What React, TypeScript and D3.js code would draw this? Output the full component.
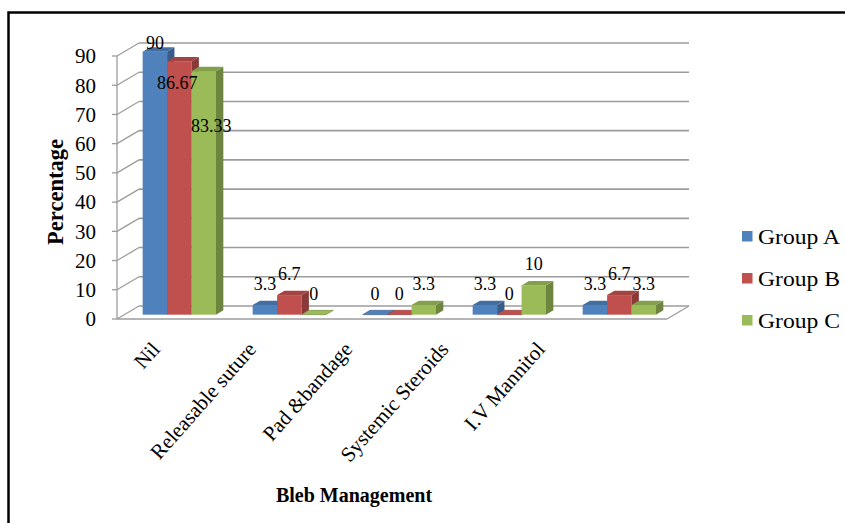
import React from "react";
import * as d3 from "d3";

const categories = ["Nil", "Releasable suture", "Pad &bandage", "Systemic Steroids", "I.V Mannitol"];
const seriesNames = ["Group A", "Group B", "Group C"];
const groupA = [90, 3.3, 0, 3.3, 3.3];
const groupB = [86.67, 6.7, 0, 0, 6.7];
const groupC = [83.33, 0, 3.3, 10, 3.3];
const yTicks = [0, 10, 20, 30, 40, 50, 60, 70, 80, 90];
const colors = ["#4F81BD", "#C0504D", "#9BBB59"];

const W = 845;
const H = 523;
const SERIF = "Times New Roman, Liberation Serif, Times, DejaVu Serif, serif";

export default function App() {
  const series = [groupA, groupB, groupC];
  // front plane geometry
  const X0 = 117, X1 = 667, DX = 22, DY = -13;
  const y = d3.scaleLinear().domain([0, 90]).range([319, 56]);
  const x = d3.scaleBand<string>().domain(categories).range([X0, X1]).paddingInner(0).paddingOuter(0);
  const bw = x.bandwidth();
  const xi = d3.scaleBand<string>().domain(seriesNames).range([bw / 6, (bw * 5) / 6]).padding(0);
  const barW = xi.bandwidth();
  const t0 = 1 / 3, t1 = 2 / 3;
  const ddx = DX * (t1 - t0), ddy = DY * (t1 - t0);
  const labelX = d3.scalePoint<string>().domain(categories).range([161, 546]);

  const bars: React.ReactNode[] = [];
  const labels: React.ReactNode[] = [];
  const nudge: Record<string, [number, number]> = { "0-1": [-2, 40], "0-2": [7.5, 76] };

  categories.forEach((c, ci) => {
    seriesNames.forEach((s, si) => {
      const v = series[si][ci];
      const x0 = (x(c) as number) + (xi(s) as number) + DX * t0;
      const x1 = x0 + barW;
      const yTop = y(v) + DY * t0;
      const yBot = y(0) + DY * t0;
      const col = d3.color(colors[si])!;
      const topC = col.darker(0.45).formatHex();
      const sideC = col.darker(0.95).formatHex();
      const pts = (arr: number[][]) => arr.map((p) => p.join(",")).join(" ");
      bars.push(
        <g key={`b-${ci}-${si}`}>
          {v > 0 && <rect x={x0} y={yTop} width={barW} height={yBot - yTop} fill={colors[si]} />}
          {v > 0 && (
            <polygon
              points={pts([[x1, yTop], [x1 + ddx, yTop + ddy], [x1 + ddx, yBot + ddy], [x1, yBot]])}
              fill={sideC}
            />
          )}
          <polygon
            points={pts([[x0, yTop], [x1, yTop], [x1 + ddx, yTop + ddy], [x0 + ddx, yTop + ddy]])}
            fill={v > 0 ? topC : colors[si]}
            stroke={v > 0 ? "none" : sideC}
            strokeWidth={0.6}
          />
        </g>
      );
      let lx = x0 + barW / 2;
      let ly = Math.max(yTop - 15, 49);
      const n = nudge[`${ci}-${si}`];
      if (n) {
        lx += n[0];
        ly += n[1];
      }
      labels.push(
        <text key={`l-${ci}-${si}`} x={lx} y={ly} textAnchor="middle" fontSize={18} fontFamily={SERIF} fill="#000">
          {String(v)}
        </text>
      );
    });
  });

  const grid = "#9c9c9c";
  return (
    <svg width={W} height={H} style={{ position: "absolute", left: 0, top: 0, background: "#fff" }}>
      <rect x={0} y={0} width={W} height={H} fill="#fff" />
      <rect x={8.5} y={12.5} width={W + 20} height={H + 20} fill="none" stroke="#000" strokeWidth={2.5} />
      {/* back gridlines and left wall */}
      {yTicks.map((t) => (
        <g key={`g-${t}`}>
          <line x1={X0 + DX} y1={y(t) + DY} x2={X1 + DX} y2={y(t) + DY} stroke={grid} strokeWidth={1.6} />
          <line x1={X0} y1={y(t)} x2={X0 + DX} y2={y(t) + DY} stroke={grid} strokeWidth={1.3} />
          <line x1={X0 - 5} y1={y(t)} x2={X0} y2={y(t)} stroke={grid} strokeWidth={1.3} />
          <text
            x={96}
            y={y(t)}
            dy="0.35em"
            textAnchor="end"
            fontSize={21}
            fontFamily={SERIF}
            fill="#000"
          >
            {t}
          </text>
        </g>
      ))}
      <line x1={X0} y1={y(90)} x2={X0} y2={y(0)} stroke={grid} strokeWidth={1.3} />
      <line x1={X0} y1={y(0)} x2={X1} y2={y(0)} stroke={grid} strokeWidth={1.6} />
      <line x1={X1} y1={y(0)} x2={X1 + DX} y2={y(0) + DY} stroke={grid} strokeWidth={1.3} />
      {bars}
      {labels}
      {/* category labels */}
      {categories.map((c) => (
        <text
          key={`c-${c}`}
          transform={`translate(${labelX(c)},350) rotate(-48.5)`}
          textAnchor="end"
          fontSize={21}
          fontFamily={SERIF}
          fill="#000"
        >
          {c}
        </text>
      ))}
      <text x={354} y={502} textAnchor="middle" fontSize={20} fontWeight="bold" fontFamily={SERIF}>
        Bleb Management
      </text>
      <text
        transform="translate(63,192) rotate(-90)"
        textAnchor="middle"
        fontSize={22.5}
        fontWeight="bold"
        fontFamily={SERIF}
      >
        Percentage
      </text>
      {/* legend */}
      {seriesNames.map((s, i) => (
        <g key={`lg-${s}`} transform={`translate(742,${231 + i * 42})`}>
          <rect x={0} y={0} width={10.5} height={10.5} fill={colors[i]} />
          <text x={16} y={12.5} fontSize={21.5} fontFamily={SERIF} fill="#000" textLength={82} lengthAdjust="spacingAndGlyphs">
            {s}
          </text>
        </g>
      ))}
    </svg>
  );
}
